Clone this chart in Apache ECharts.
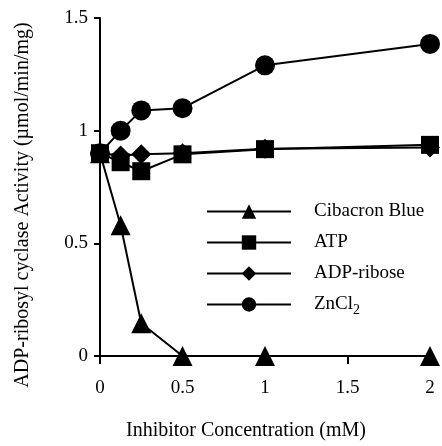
<!DOCTYPE html>
<html>
<head>
<meta charset="utf-8">
<script src="https://cdn.jsdelivr.net/npm/echarts@6/dist/echarts.min.js"></script>
<style>
  html, body { margin: 0; padding: 0; background: #fff; }
  #chart { width: 442px; height: 446px; }
</style>
</head>
<body>
<div id="chart"></div>
<script>
// inhibitor concentration (mM)
var conc = [0, 0.125, 0.25, 0.5, 1, 2];
// activity (umol/min/mg)
var cibacron = [0.9, 0.58, 0.145, 0, 0, 0];
var atp = [0.9, 0.86, 0.82, 0.895, 0.918, 0.937];
var adpRibose = [0.9, 0.89, 0.895, 0.9, 0.92, 0.925];
var zncl2 = [0.9, 1.0, 1.09, 1.1, 1.29, 1.385];
var legendNames = ['Cibacron Blue', 'ATP', 'ADP-ribose', 'ZnCl2'];

function pairs(ys) {
  var out = [];
  for (var i = 0; i < conc.length; i++) {
    out.push([conc[i], ys[i]]);
  }
  return out;
}

function mkSeries(name, ys, symbol, size) {
  return {
    name: name,
    type: 'line',
    data: pairs(ys),
    symbol: symbol,
    symbolSize: size,
    showAllSymbol: true,
    lineStyle: { color: '#000', width: 2 },
    itemStyle: { color: '#000', borderWidth: 0 },
    emphasis: { disabled: true },
    animation: false
  };
}

var serif = 'Liberation Serif';
var chart = echarts.init(document.getElementById('chart'));
chart.setOption({
  backgroundColor: '#fff',
  grid: { left: 100, right: 12, top: 18, bottom: 88, containLabel: false },
  legend: {
    orient: 'vertical',
    left: 201,
    top: 197,
    itemWidth: 84,
    itemHeight: 18,
    itemGap: 12,
    data: legendNames,
    formatter: function (name) {
      if (name === 'ZnCl2') return '{a|ZnCl}{s|2}';
      return '{a|' + name + '}';
    },
    textStyle: {
      color: '#000',
      fontFamily: serif,
      fontSize: 19,
      rich: {
        a: { fontFamily: serif, fontSize: 19, color: '#000', padding: [0, 0, 0, 18] },
        s: { fontFamily: serif, fontSize: 14, color: '#000', padding: [12, 0, 0, 0] }
      }
    }
  },
  xAxis: {
    type: 'value',
    min: 0,
    max: 2,
    interval: 0.5,
    name: 'Inhibitor Concentration (mM)',
    nameLocation: 'middle',
    nameGap: 65,
    nameTextStyle: { fontFamily: serif, fontSize: 20, color: '#000', padding: [0, 38, 0, 0] },
    axisLine: { show: true, onZero: false, lineStyle: { color: '#000', width: 2 } },
    axisTick: { show: true, length: 8, lineStyle: { color: '#000', width: 2 } },
    axisLabel: { margin: 23, fontFamily: serif, fontSize: 19, color: '#000' },
    splitLine: { show: false }
  },
  yAxis: {
    type: 'value',
    min: 0,
    max: 1.5,
    interval: 0.5,
    name: 'ADP-ribosyl cyclase Activity (\u00b5mol/min/mg)',
    nameLocation: 'middle',
    nameGap: 67,
    nameTextStyle: { fontFamily: serif, fontSize: 20, color: '#000', padding: [0, 36, 0, 0] },
    axisLine: { show: true, onZero: false, lineStyle: { color: '#000', width: 2 } },
    axisTick: { show: true, length: 6, lineStyle: { color: '#000', width: 2 } },
    axisLabel: { margin: 12, fontFamily: serif, fontSize: 19, color: '#000' },
    splitLine: { show: false }
  },
  series: [
    mkSeries('ADP-ribose', adpRibose, 'diamond', 20),
    mkSeries('ATP', atp, 'rect', 18),
    mkSeries('ZnCl2', zncl2, 'circle', 20),
    mkSeries('Cibacron Blue', cibacron, 'triangle', 20)
  ]
});
</script>
</body>
</html>
